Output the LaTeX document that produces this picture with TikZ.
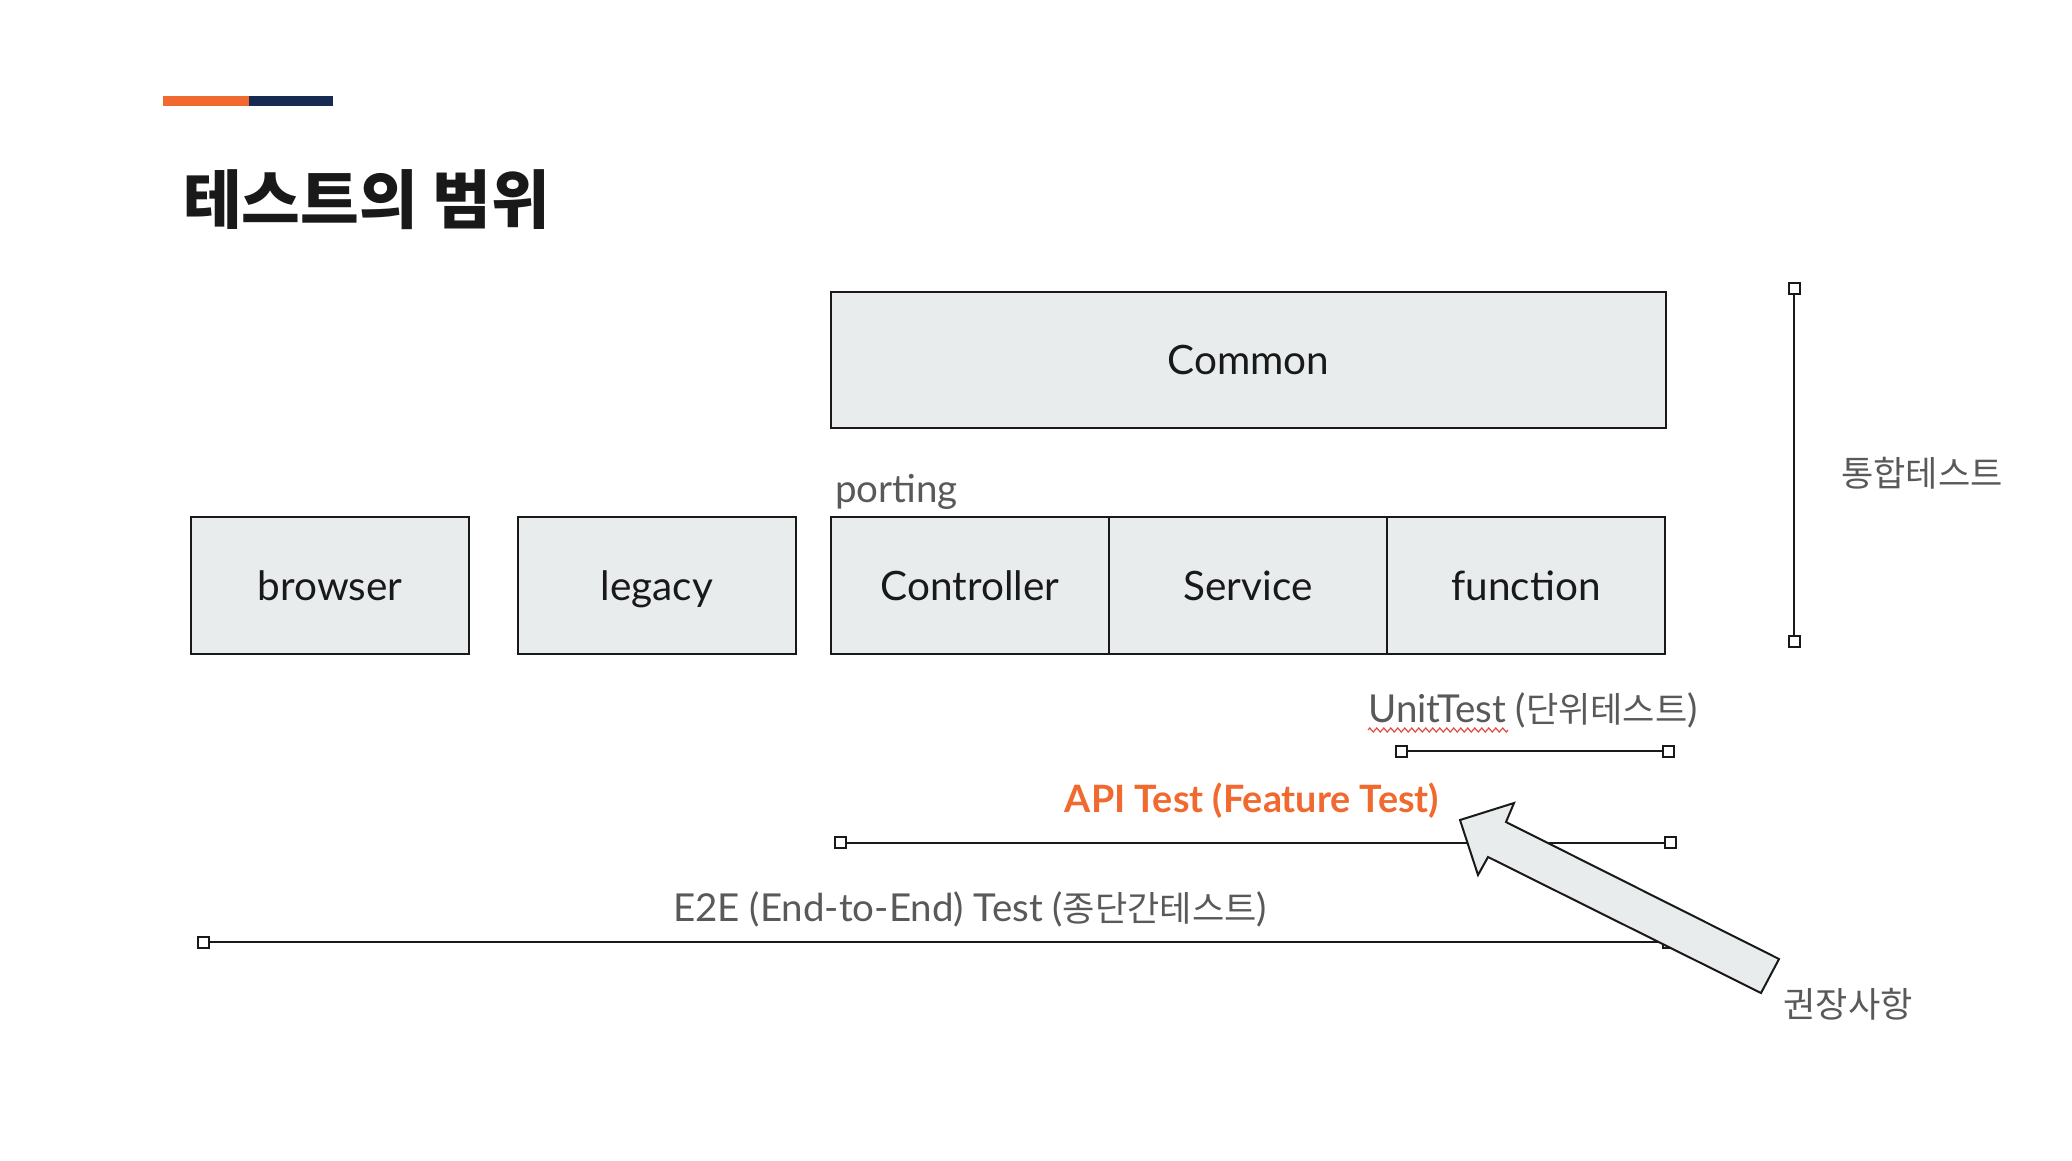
\documentclass[tikz,border=0pt]{standalone}
\usepackage{fontspec}
\setmainfont{Lato}
\newfontfamily\kr[Scale=0.912]{Noto Sans CJK KR}
\usetikzlibrary{positioning, decorations.pathmorphing}
\definecolor{boxgray}{HTML}{E8ECED}
\definecolor{slideorange}{HTML}{F06A30}
\definecolor{slidenavy}{HTML}{172B52}
\definecolor{labelgray}{HTML}{595959}
\definecolor{spellred}{HTML}{E04A3F}

\begin{document}
\begin{tikzpicture}[
    x=1pt, y=-1pt,
    layer/.style={draw=black!90, fill=boxgray, line width=2pt, outer sep=0pt, inner sep=0pt,
                  minimum width=278pt, minimum height=137pt, text height=29pt, text depth=0pt,
                  font=\fontsize{40.5}{48}\selectfont, text=black!90},
    scopelabel/.style={text=labelgray, inner sep=0pt, font=\fontsize{38.5}{46}\selectfont},
    endmark/.style={draw=black!90, fill=white, line width=2pt, minimum size=11pt, inner sep=0pt, outer sep=0pt},
    rangeline/.style={draw=black!90, line width=2pt},
    spellmark/.style={draw=spellred, line width=1.2pt, decorate, decoration={zigzag, segment length=7pt, amplitude=2pt}}
]
   \useasboundingbox (0,0) rectangle (2072,1160);

   % accent bar and title
   \fill[slideorange] (163,96) rectangle (249,106);
   \fill[slidenavy] (249,96) rectangle (333,106);
   \node[anchor=west, inner sep=0pt, font=\kr\bfseries\fontsize{70}{80}\selectfont, text=black!90] (title) at (183,200) {테스트의 범위};

   % layers
   \node[layer, anchor=north west] (controller) at (831,517) {Controller};
   \node[layer, right=0pt of controller] (service) {Service};
   \node[layer, right=0pt of service] (function) {function};
   \node[layer, left=35pt of controller] (legacy) {legacy};
   \node[layer, left=49pt of legacy] (browser) {browser};
   \node[layer, minimum width=835pt, minimum height=136pt, above=89pt of controller.north west, anchor=south west] (common) {Common};
   \node[scopelabel, anchor=base west] (porting) at (835,502) {porting};

   % integration range
   \node[endmark] (int-top) at (1794,288) {};
   \node[endmark] (int-bot) at (1794,641) {};
   \draw[rangeline] (int-top) -- (int-bot);
   \node[scopelabel] (int-label) at (1922,473) {\kr 통합테스트};

   % unit range
   \node[endmark] (unit-l) at (1401,751) {};
   \node[endmark] (unit-r) at (1668,751) {};
   \draw[rangeline] (unit-l) -- (unit-r);
   \node[scopelabel, anchor=base] (unit-label) at (1533,722) {UnitTest ({\kr 단위테스트})};
   \draw[spellmark] (1368,730) -- (1508,730);

   % api range
   \node[endmark] (api-l) at (840,842.5) {};
   \node[endmark] (api-r) at (1670,842.5) {};
   \draw[rangeline] (api-l) -- (api-r);
   \node[scopelabel, anchor=base, text=slideorange, font=\bfseries\fontsize{37.7}{46}\selectfont] (api-label) at (1252,812) {API Test (Feature Test)};

   % e2e range
   \node[endmark] (e2e-l) at (203,942) {};
   \node[endmark] (e2e-r) at (1668,942) {};
   \draw[rangeline] (e2e-l) -- (e2e-r);
   \node[scopelabel, anchor=base] (e2e-label) at (970,921) {E2E (End-to-End) Test ({\kr 종단간테스트})};

   % recommended arrow
   \filldraw[fill=boxgray, draw=black!90, line width=2pt, line join=miter]
     (1460,820) -- (1514,803) -- (1506,822) -- (1779,959) -- (1761,993) -- (1488,857) -- (1478,875) -- cycle;
   \node[scopelabel] (recommend) at (1848,1004) {\kr 권장사항};
\end{tikzpicture}
\end{document}
